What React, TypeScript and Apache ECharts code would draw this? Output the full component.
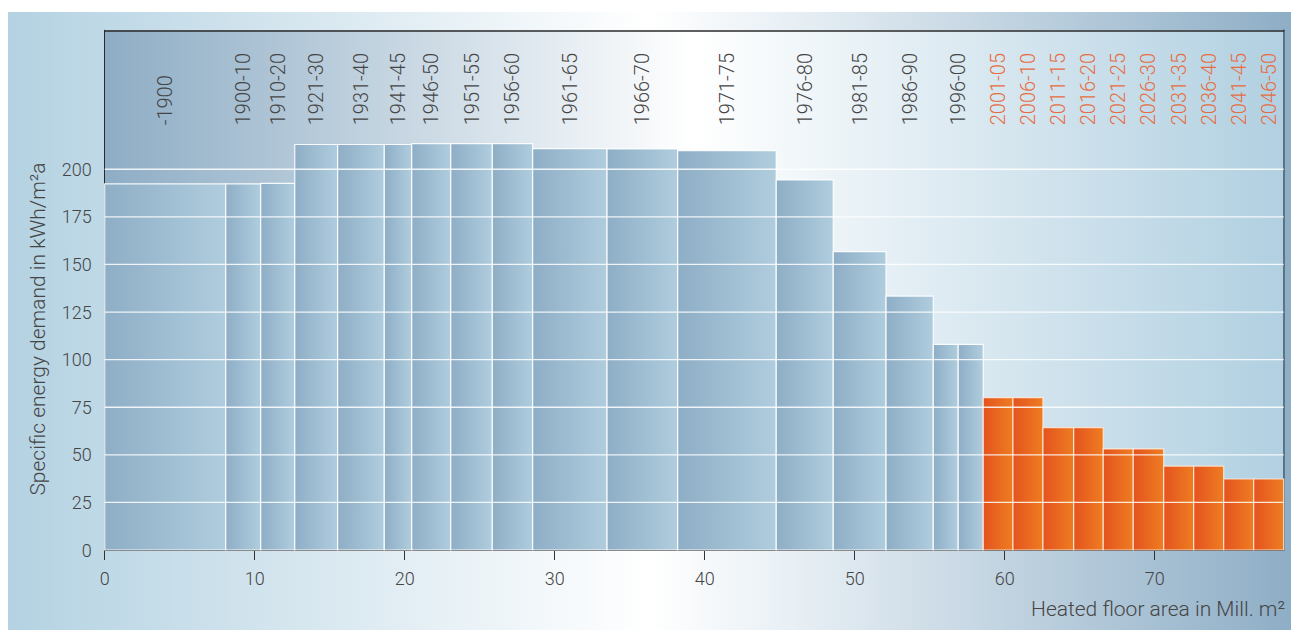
import React, { useEffect, useRef } from 'react';
import * as echarts from 'echarts';

// Construction periods (label per bar; "" = bar shares the label of the next bar)
const periods = [
  '-1900', '1900-10', '1910-20', '1921-30', '1931-40', '1941-45', '1946-50', '1951-55',
  '1956-60', '1961-65', '1966-70', '1971-75', '1976-80', '1981-85', '1986-90', '', '1996-00',
  '2001-05', '2006-10', '2011-15', '2016-20', '2021-25', '2026-30', '2031-35', '2036-40',
  '2041-45', '2046-50',
];
// Heated floor area per period (Mill. m²) = bar widths
const floorArea = [
  8.07, 2.33, 2.27, 2.86, 3.11, 1.83, 2.6, 2.77, 2.69, 4.96, 4.71, 6.57, 3.8, 3.52, 3.15, 1.66, 1.67,
  1.98, 2.0, 2.05, 1.97, 2.0, 2.03, 2.0, 2.0, 2.0, 2.0,
];
// Specific energy demand (kWh/m²a) = bar heights
const demand = [
  192.3, 192.3, 192.6, 213, 213, 213, 213.5, 213.5, 213.5, 210.8, 210.7, 209.8, 194.4, 156.7, 133.4,
  108, 108, 80, 80, 64.3, 64.3, 53.1, 53.1, 44.1, 44.1, 37.3, 37.3,
];
const firstForecast = 17; // from 2001-05 on: orange
const yTickStep = 25;
const yLabelMax = 200;
const yMax = 273;
const gridValues = [25, 50, 75, 100, 125, 150, 175, 200];
const xTickStep = 10;

const FONT = 'Roboto';

export default function App() {
  const ref = useRef<HTMLDivElement>(null);

  useEffect(() => {
    const chart = echarts.init(ref.current!, null, { renderer: 'svg' });

    const starts: number[] = [];
    let acc = 0;
    floorArea.forEach((w) => {
      starts.push(acc);
      acc += w;
    });
    const xMax = Math.round(acc * 100) / 100;

    const barData = floorArea.map((w, i) => [starts[i], starts[i] + w, demand[i], i >= firstForecast ? 1 : 0]);

    const labelData: number[][] = [];
    let runStart = 0;
    periods.forEach((p, i) => {
      if (p !== '') {
        labelData.push([runStart, starts[i] + floorArea[i], i]);
        runStart = starts[i] + floorArea[i];
      }
    });

    const gridData = gridValues.map((v) => [0, xMax, v]);

    const grayGrad = {
      type: 'linear', x: 0, y: 0, x2: 1, y2: 0,
      colorStops: [
        { offset: 0, color: '#8eaec6' },
        { offset: 1, color: '#b0cdde' },
      ],
    };
    const orangeGrad = {
      type: 'linear', x: 0, y: 0, x2: 1, y2: 0,
      colorStops: [
        { offset: 0, color: '#e4531f' },
        { offset: 1, color: '#ee7d21' },
      ],
    };

    const option: any = {
      animation: false,
      graphic: [
        {
          type: 'rect',
          z: -10,
          silent: true,
          shape: { x: 0, y: 0, width: 1283, height: 618 },
          style: {
            fill: new echarts.graphic.LinearGradient(0, 0, 1, 0, [
              { offset: 0, color: '#b4d2e2' },
              { offset: 0.5, color: '#ffffff' },
              { offset: 0.62, color: '#e6eef4' },
              { offset: 1, color: '#8eaec6' },
            ]),
          },
        },
        {
          type: 'text',
          x: 30,
          y: 317,
          rotation: Math.PI / 2,
          z: 10,
          style: {
            text: 'Specific energy demand in kWh/m²a',
            fill: '#454545',
            fontSize: 21,
            fontFamily: FONT,
            fontWeight: 300,
            align: 'center',
            verticalAlign: 'middle',
          },
        },
        {
          type: 'text',
          x: 1277,
          y: 597,
          z: 10,
          style: {
            text: 'Heated floor area in Mill. m²',
            fill: '#454545',
            fontSize: 21,
            fontFamily: FONT,
            fontWeight: 300,
            align: 'right',
            verticalAlign: 'middle',
          },
        },
      ],
      grid: {
        left: 96.7,
        top: 18.3,
        right: 7.3,
        bottom: 80,
        show: true,
        borderWidth: 0,
        backgroundColor: new echarts.graphic.LinearGradient(0, 0, 1, 0, [
          { offset: 0, color: '#8eadc5' },
          { offset: 0.5, color: '#ffffff' },
          { offset: 1, color: '#b1d0e1' },
        ]),
      },
      xAxis: [
        {
          type: 'value',
          min: 0,
          max: xMax,
          interval: xTickStep,
          axisLine: { show: true, onZero: false, lineStyle: { color: '#2a2a2a', width: 1 } },
          axisTick: { show: true, length: 10, lineStyle: { color: '#333', width: 1 } },
          axisLabel: {
            show: true,
            showMaxLabel: false,
            margin: 19,
            fontSize: 18,
            fontFamily: FONT,
            fontWeight: 300,
            color: '#454545',
          },
          splitLine: { show: false },
        },
        {
          type: 'value',
          position: 'top',
          min: 0,
          max: xMax,
          axisLine: { show: true, onZero: false, lineStyle: { color: '#2a2a2a', width: 1.5 } },
          axisTick: { show: false },
          axisLabel: { show: false },
          splitLine: { show: false },
        },
      ],
      yAxis: [
        {
          type: 'value',
          min: 0,
          max: yMax,
          interval: yTickStep,
          axisLine: { show: true, onZero: false, lineStyle: { color: '#2a2a2a', width: 1 } },
          axisTick: { show: false },
          axisLabel: {
            margin: 13,
            fontSize: 18,
            fontFamily: FONT,
            fontWeight: 300,
            color: '#454545',
            formatter: (v: number) => (v <= yLabelMax ? String(v) : ''),
          },
          splitLine: { show: false },
        },
        {
          type: 'value',
          position: 'right',
          min: 0,
          max: yMax,
          axisLine: { show: true, onZero: false, lineStyle: { color: '#5f7284', width: 2 } },
          axisTick: { show: false },
          axisLabel: { show: false },
          splitLine: { show: false },
        },
      ],
      series: [
        {
          type: 'custom',
          name: 'bars',
          z: 2,
          silent: true,
          encode: { x: [0, 1], y: 2 },
          data: barData,
          renderItem: (params: any, api: any) => {
            const x0 = api.value(0);
            const x1 = api.value(1);
            const h = api.value(2);
            const fc = api.value(3);
            const p0 = api.coord([x0, h]);
            const p1 = api.coord([x1, 0]);
            return {
              type: 'rect',
              shape: { x: p0[0], y: p0[1], width: p1[0] - p0[0], height: p1[1] - p0[1] },
              style: {
                fill: fc ? orangeGrad : grayGrad,
                stroke: fc ? 'rgba(255,235,220,0.85)' : 'rgba(255,255,255,0.9)',
                lineWidth: 1.2,
              },
            };
          },
        },
        {
          type: 'custom',
          name: 'gridlines',
          z: 3,
          silent: true,
          encode: { x: [0, 1], y: 2 },
          data: gridData,
          renderItem: (params: any, api: any) => {
            const a = api.coord([api.value(0), api.value(2)]);
            const b = api.coord([api.value(1), api.value(2)]);
            return {
              type: 'line',
              shape: { x1: a[0], y1: a[1], x2: b[0], y2: b[1] },
              style: { stroke: 'rgba(255,255,255,0.85)', lineWidth: 1.3 },
            };
          },
        },
        {
          type: 'custom',
          name: 'labels',
          z: 4,
          silent: true,
          encode: { x: [0, 1] },
          data: labelData,
          renderItem: (params: any, api: any) => {
            const idx = api.value(2);
            const cx = (api.value(0) + api.value(1)) / 2;
            const top = api.coord([cx, yMax]);
            const fc = idx >= firstForecast;
            return {
              type: 'text',
              x: top[0],
              y: top[1] + 95,
              rotation: Math.PI / 2,
              style: {
                text: periods[idx],
                fill: fc ? '#e66d42' : '#454545',
                fontSize: 20,
                fontFamily: FONT,
                fontWeight: 300,
                align: 'left',
                verticalAlign: 'middle',
              },
            };
          },
        },
      ],
    };

    chart.setOption(option);
    return () => chart.dispose();
  }, []);

  return (
    <div
      ref={ref}
      style={{ position: 'absolute', left: 8, top: 12, width: 1283, height: 618 }}
    />
  );
}
